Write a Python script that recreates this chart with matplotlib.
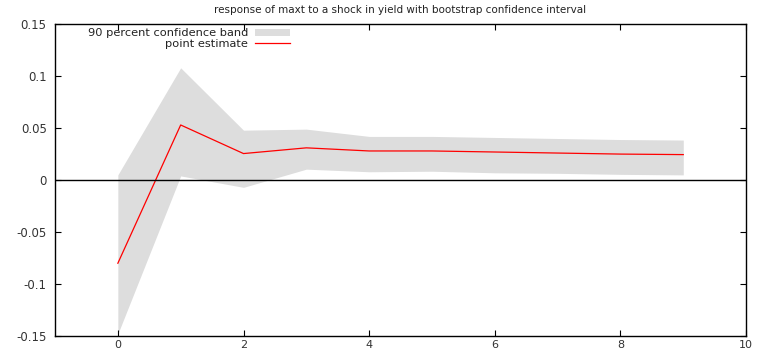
import matplotlib
matplotlib.use("Agg")
import matplotlib.pyplot as plt

# impulse response data
periods = [0, 1, 2, 3, 4, 5, 6, 7, 8, 9]
point_estimate = [-0.080, 0.053, 0.0255, 0.031, 0.028, 0.028, 0.027, 0.026, 0.025, 0.0245]
upper_band = [0.005, 0.108, 0.048, 0.049, 0.042, 0.042, 0.041, 0.040, 0.039, 0.0385]
lower_band = [-0.148, 0.004, -0.007, 0.0105, 0.008, 0.0085, 0.007, 0.0065, 0.0055, 0.005]
xticks = [0, 2, 4, 6, 8, 10]
yticks = [-0.15, -0.1, -0.05, 0, 0.05, 0.1, 0.15]
ytick_labels = ["-0.15", "-0.1", "-0.05", "0", "0.05", "0.1", "0.15"]

plt.rcParams['font.family'] = ['DejaVu Sans']

fig = plt.figure(figsize=(7.59, 3.55), dpi=100)
ax = fig.add_axes([0.0725, 0.0535, 0.9105, 0.8785])

ax.fill_between(periods, lower_band, upper_band, color='#dddddd', lw=0,
                label="90 percent confidence band")
ax.plot(periods, point_estimate, color='red', lw=0.9, label="point estimate")
ax.axhline(0, color='black', lw=1.0)

ax.set_xlim(-1, 10)
ax.set_ylim(-0.15, 0.15)
ax.set_xticks(xticks)
ax.set_yticks(yticks)
ax.set_yticklabels(ytick_labels)
ax.tick_params(direction='in', top=True, right=True, length=4, width=0.8,
               labelsize=8.5, labelcolor='#333333')
ax.tick_params(axis='y', pad=6)
ax.tick_params(axis='x', pad=3, labelsize=8)
for s in ax.spines.values():
    s.set_linewidth(1.0)

ax.set_title("response of maxt to a shock in yield with bootstrap confidence interval",
             fontsize=7.5, pad=8, color='#222222')

leg = ax.legend(loc='upper left', bbox_to_anchor=(0.036, 1.012), frameon=False,
                markerfirst=False, fontsize=8.2, handlelength=3.1,
                handleheight=0.6, labelspacing=0.02, borderpad=0.2,
                handletextpad=0.6)
for t in leg.get_texts():
    t.set_ha('right')
    t.set_color('#222222')
leg._legend_box.align = "right"

fig.savefig("out.png", dpi=100)
